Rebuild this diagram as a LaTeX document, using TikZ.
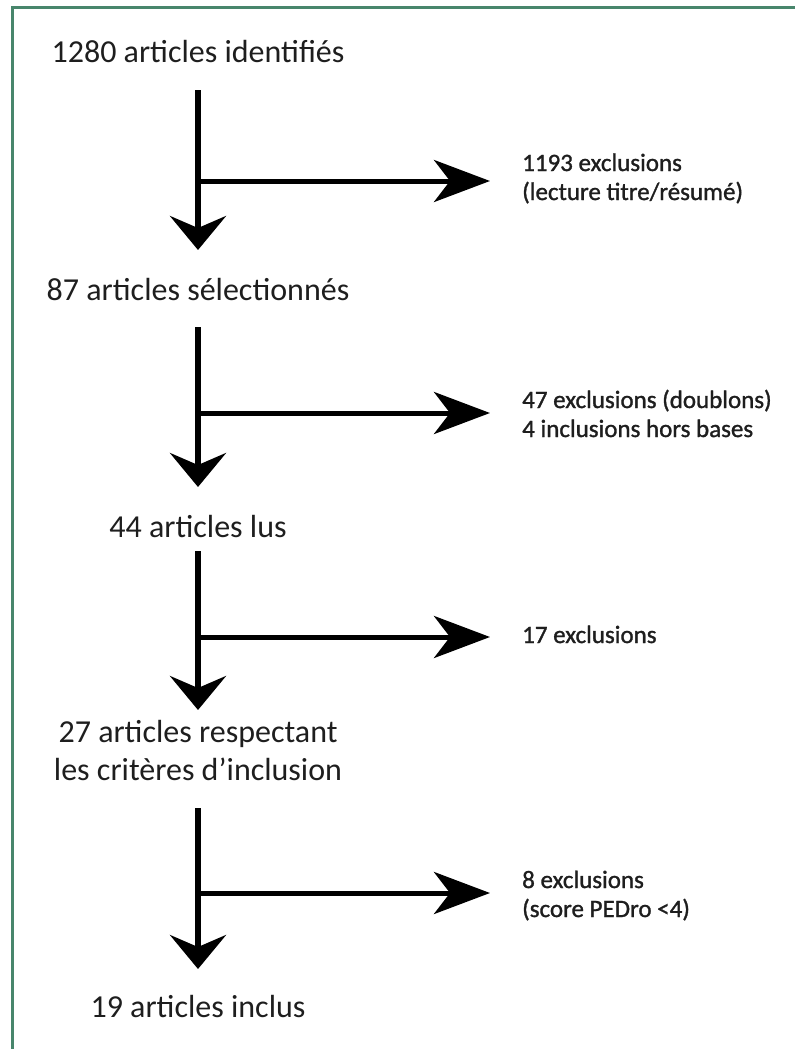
\documentclass[tikz,border=0pt]{standalone}
\usepackage{fontspec}
\setmainfont{Carlito}
\newfontfamily\sidefont[FakeBold=1.2]{Carlito}
\usetikzlibrary{arrows.meta}
\definecolor{framegreen}{RGB}{72,134,108}
\definecolor{txt}{RGB}{30,30,30}
\tikzset{
  frameline/.style={draw=framegreen, line width=3pt},
  mainbox/.style={inner sep=0pt, text=txt, font=\fontsize{32}{38}\selectfont, align=center, anchor=base},
  sidebox/.style={inner sep=0pt, text=txt, font=\sidefont\fontsize{25}{29}\selectfont, align=left, anchor=base west},
  downarrow/.style={line width=6pt, -{Stealth[length=34pt,width=56pt,inset=12pt]}},
  sidearrow/.style={line width=5pt, -{Stealth[length=56pt,width=42pt,inset=16pt]}}
}
\begin{document}
\begin{tikzpicture}[x=1pt,y=-1pt]
\useasboundingbox (0,0) rectangle (795,1049);
\draw[frameline] (12,1049) -- (12,8) -- (795,8);

% main column (base anchor = baseline of last line)
\node[mainbox] (n1) at (198,63) {1280 articles identifiés};
\node[mainbox] (n2) at (198,300) {87 articles sélectionnés};
\node[mainbox] (n3) at (198,537) {44 articles lus};
\node[mainbox] (n4) at (198,780) {27 articles respectant\\les critères d’inclusion};
\node[mainbox] (n5) at (198,1017) {19 articles inclus};

% side labels
\node[sidebox] (e1) at (522,200) {1193 exclusions\\(lecture titre/résumé)};
\node[sidebox] (e2) at (522,437) {47 exclusions (doublons)\\4 inclusions hors bases};
\node[sidebox] (e3) at (522,643) {17 exclusions};
\node[sidebox] (e4) at (522,917) {8 exclusions\\(score PEDro <4)};

% branch points
\coordinate (b1) at (198,181);
\coordinate (b2) at (198,413);
\coordinate (b3) at (198,637);
\coordinate (b4) at (198,893);

% vertical arrows
\draw[downarrow] (n1.south |- 0,90) -- (n2.north |- 0,250);
\draw[downarrow] (n2.south |- 0,327) -- (n3.north |- 0,487);
\draw[downarrow] (n3.south |- 0,551) -- (n4.north |- 0,710);
\draw[downarrow] (n4.south |- 0,808) -- (n5.north |- 0,969);

% side arrows
\draw[sidearrow, shorten >=32pt] (b1) -- (b1 -| e1.west);
\draw[sidearrow, shorten >=32pt] (b2) -- (b2 -| e2.west);
\draw[sidearrow, shorten >=32pt] (b3) -- (b3 -| e3.west);
\draw[sidearrow, shorten >=32pt] (b4) -- (b4 -| e4.west);
\end{tikzpicture}
\end{document}
